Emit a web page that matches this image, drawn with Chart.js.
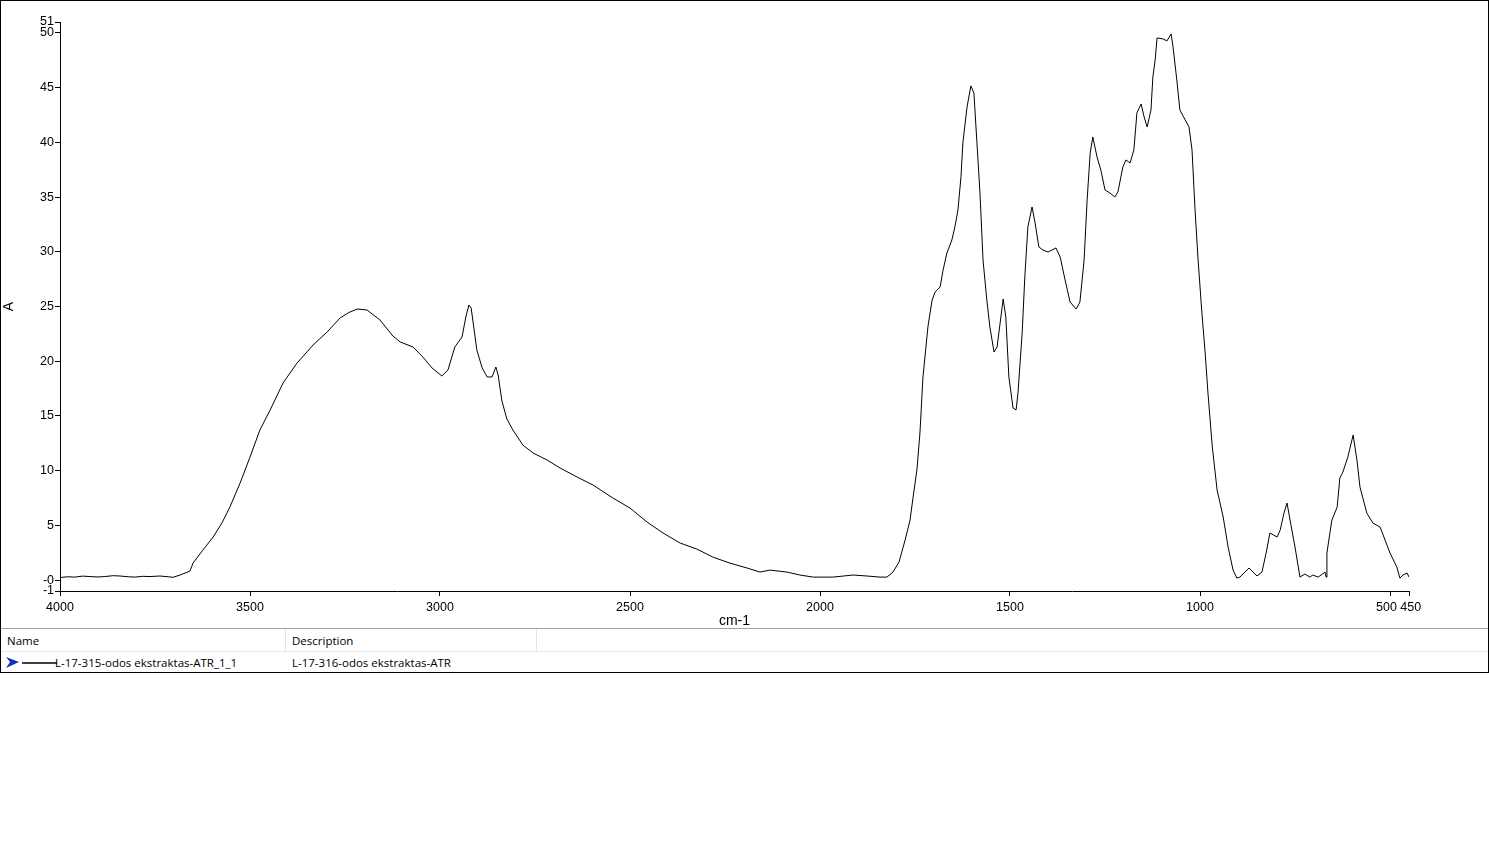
<!DOCTYPE html>
<html>
<head>
<meta charset="utf-8">
<script src="https://cdn.jsdelivr.net/npm/chart.js@4.4.1/dist/chart.umd.min.js"></script>
<style>
  html, body { margin:0; padding:0; background:#fff; }
  body { width:1489px; height:847px; position:relative; overflow:hidden; font-family:"Open Sans","Noto Sans","Liberation Sans",sans-serif; }
  #wrap { position:absolute; left:0; top:0; width:1489px; height:630px; }
  #frame { position:absolute; left:0; top:0; width:1489px; height:673px; border:1px solid #000; box-sizing:border-box; pointer-events:none; z-index:5; }
  #table { position:absolute; left:0; top:628px; width:1489px; height:45px; border-top:1px solid #a0a0a0; box-sizing:border-box; font-size:11.5px; color:#000; background:#fff; z-index:3; }
  .hdr { position:absolute; top:0; height:23px; line-height:23px; }
  .row { position:absolute; top:23px; height:21px; line-height:21px; }
  .vline { position:absolute; top:0; width:1px; height:22px; background:#e3e3e3; }
  .hline { position:absolute; left:0; top:22px; width:1489px; height:1px; background:#e8e8e8; }
</style>
</head>
<body>
<div id="wrap"><canvas id="c" width="1489" height="630"></canvas></div>
<div id="table">
  <div class="hdr" style="left:7px;">Name</div>
  <div class="vline" style="left:285px;"></div>
  <div class="hdr" style="left:292px;">Description</div>
  <div class="vline" style="left:536px;"></div>
  <div class="hline"></div>
  <svg style="position:absolute;left:5px;top:27px;" width="52" height="14">
    <polygon points="1,1 14,6 1,12 5,6" fill="#1030c0"/>
    <line x1="17" y1="7" x2="52" y2="7" stroke="#000" stroke-width="1.5"/>
  </svg>
  <div class="row" style="left:55px;">L-17-315-odos ekstraktas-ATR_1_1</div>
  <div class="row" style="left:292px;">L-17-316-odos ekstraktas-ATR</div>
</div>
<div id="frame"></div>
<script>
const wavenumbers = [4000,3980,3961,3941,3921,3900,3882,3860,3842,3820,3803,3783,3763,3737,3715,3703,3684,3658,3650,3624,3597,3574,3553,3526,3500,3474,3447,3413,3376,3334,3297,3263,3240,3218,3192,3158,3124,3105,3071,3045,3021,2995,2979,2961,2942,2932,2924,2918,2903,2889,2876,2863,2853,2847,2837,2824,2808,2782,2755,2718,2684,2639,2597,2545,2500,2455,2413,2368,2324,2282,2237,2192,2158,2132,2087,2053,2018,1966,1913,1876,1842,1824,1808,1792,1776,1763,1755,1745,1737,1729,1716,1705,1697,1684,1676,1666,1653,1645,1637,1629,1624,1613,1603,1595,1587,1579,1571,1561,1553,1542,1534,1524,1518,1511,1503,1492,1484,1479,1468,1461,1453,1442,1434,1424,1413,1400,1379,1368,1355,1342,1326,1316,1305,1297,1289,1282,1271,1261,1250,1237,1224,1216,1203,1195,1184,1174,1166,1155,1147,1139,1129,1124,1118,1113,1097,1087,1076,1071,1061,1053,1039,1029,1021,1013,1005,995,987,979,968,955,939,926,913,903,895,871,850,837,826,816,797,789,779,771,763,750,737,724,711,703,689,671,668,666,653,639,632,624,611,597,587,579,561,545,526,513,500,482,474,466,455,450];
const absorbance = [0.23,0.30,0.27,0.36,0.32,0.28,0.32,0.40,0.37,0.30,0.27,0.34,0.32,0.37,0.30,0.25,0.46,0.82,1.55,2.74,3.93,5.21,6.67,8.87,11.24,13.71,15.54,18.01,19.84,21.48,22.67,23.95,24.45,24.77,24.68,23.77,22.30,21.76,21.30,20.38,19.38,18.65,19.20,21.30,22.21,24.04,25.14,24.86,21.02,19.38,18.56,18.56,19.47,18.74,16.36,14.72,13.71,12.34,11.61,10.97,10.24,9.41,8.68,7.50,6.58,5.30,4.30,3.38,2.83,2.10,1.55,1.10,0.73,0.91,0.73,0.46,0.27,0.27,0.46,0.37,0.27,0.27,0.73,1.65,3.66,5.48,7.59,10.05,13.44,18.56,23.13,25.59,26.33,26.78,28.34,29.89,31.08,32.27,33.82,36.84,39.95,43.24,45.16,44.52,39.95,35.37,29.25,25.59,23.13,20.84,21.30,24.04,25.69,24.04,18.56,15.72,15.54,17.09,22.58,27.70,32.27,34.10,32.63,30.44,30.16,29.98,30.35,29.52,27.42,25.41,24.77,25.41,29.25,34.73,39.03,40.49,38.67,37.48,35.65,35.37,35.01,35.47,37.75,38.39,38.12,39.31,42.69,43.51,42.32,41.41,42.96,45.98,47.53,49.54,49.45,49.27,49.91,48.72,45.70,42.96,42.05,41.41,39.31,33.82,29.25,24.41,21.02,17.09,12.30,8.23,5.76,3.02,0.91,0.18,0.27,1.10,0.37,0.73,2.47,4.30,3.93,4.57,6.12,7.04,5.48,3.02,0.27,0.55,0.27,0.46,0.27,0.73,0.27,2.47,5.48,6.67,9.32,9.87,11.24,13.25,10.97,8.50,6.12,5.21,4.84,3.66,2.47,1.19,0.18,0.46,0.64,0.27];
const xTicks = [4000,3500,3000,2500,2000,1500,1000,500,450];
const xTickLabels = {"500":"500  ","450":" 450"};
const yTicks = [-1,0,5,10,15,20,25,30,35,40,45,50,51];
const yTickLabels = {"-1":"-1","0":"-0"};

const points = wavenumbers.map((w,i)=>({x:w, y:absorbance[i]}));
const tickFont = {family:"'Liberation Sans', Arial, sans-serif", size:12.5};

new Chart(document.getElementById('c'), {
  type:'line',
  data:{ datasets:[{ data:points, borderColor:'#000', borderWidth:1, pointRadius:0, tension:0, fill:false }] },
  options:{
    responsive:false, animation:false, maintainAspectRatio:false,
    layout:{ padding:{ left:0, right:80, top:22, bottom:0 } },
    plugins:{ legend:{display:false}, tooltip:{enabled:false} },
    scales:{
      x:{
        type:'linear', reverse:true, min:450, max:4000,
        afterBuildTicks:(s)=>{ s.ticks = xTicks.map(v=>({value:v})); },
        afterFit:(s)=>{ s.height = 39; },
        grid:{ drawOnChartArea:false, drawTicks:true, tickLength:5, color:'#000' },
        border:{ display:true, color:'#000', width:1 },
        ticks:{ autoSkip:false, maxRotation:0, padding:4, color:'#000', font:tickFont, callback:(v)=> (xTickLabels[String(v)] !== undefined ? xTickLabels[String(v)] : String(v)) },
        title:{ display:true, text:'cm-1', color:'#000', font:{family:"'Liberation Sans', Arial, sans-serif", size:14}, padding:{top:0,bottom:0} }
      },
      y:{
        type:'linear', min:-1, max:51,
        afterBuildTicks:(s)=>{ s.ticks = yTicks.map(v=>({value:v})); },
        afterFit:(s)=>{ s.width = 60; },
        grid:{ drawOnChartArea:false, drawTicks:true, tickLength:5, color:'#000' },
        border:{ display:true, color:'#000', width:1 },
        ticks:{ autoSkip:false, padding:1, color:'#000', font:tickFont, callback:(v)=> (yTickLabels[String(v)] !== undefined ? yTickLabels[String(v)] : String(v)) },
        title:{ display:true, text:'A', color:'#000', font:{family:"'Liberation Sans', Arial, sans-serif", size:14}, padding:{top:1,bottom:0} }
      }
    }
  }
});
</script>
</body>
</html>
